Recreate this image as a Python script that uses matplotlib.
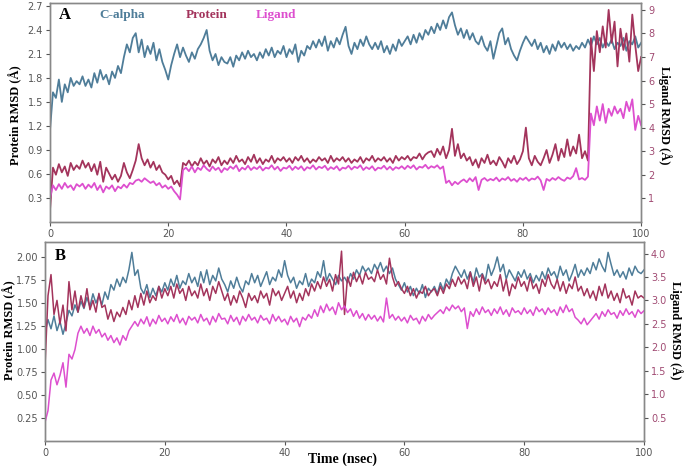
import matplotlib
matplotlib.use("Agg")
import matplotlib.pyplot as plt
import numpy as np

# time axis, 0.5 ns steps
time = np.linspace(0, 100, 201)

# ---- panel A ----
a_calpha = [
    1.15, 1.62, 1.55, 1.78, 1.50, 1.72, 1.62, 1.80, 1.70, 1.76,
    1.72, 1.82, 1.70, 1.78, 1.68, 1.86, 1.74, 1.90, 1.78, 1.84,
    1.72, 1.88, 1.80, 1.95, 1.86, 2.06, 2.22, 2.12, 2.30, 2.36,
    2.12, 2.28, 2.06, 2.20, 2.10, 2.24, 2.02, 2.16, 2.00, 1.90,
    1.78, 1.96, 2.10, 2.22, 2.06, 2.18, 2.08, 2.00, 2.12, 2.04,
    2.16, 2.22, 2.30, 2.40, 2.14, 2.02, 2.10, 1.96, 2.06, 2.00,
    1.98, 2.06, 1.94, 2.08, 2.02, 2.12, 2.04, 2.14, 2.06, 2.10,
    2.02, 2.12, 2.05, 2.16, 2.08, 2.18, 2.06, 2.14, 2.10, 2.20,
    2.06, 2.16, 2.10, 2.22, 2.00, 2.14, 2.08, 2.20, 2.16, 2.26,
    2.18, 2.28, 2.20, 2.32, 2.14, 2.26, 2.18, 2.30, 2.22, 2.34,
    2.44, 2.20, 2.10, 2.24, 2.16, 2.28, 2.20, 2.32, 2.22, 2.16,
    2.24, 2.16, 2.26, 2.12, 2.20, 2.10, 2.22, 2.14, 2.28, 2.20,
    2.26, 2.32, 2.22, 2.34, 2.24, 2.36, 2.28, 2.40, 2.34, 2.44,
    2.36, 2.48, 2.40, 2.52, 2.42, 2.56, 2.62, 2.46, 2.34, 2.42,
    2.30, 2.40, 2.28, 2.36, 2.26, 2.22, 2.32, 2.20, 2.14, 2.26,
    2.04, 2.20, 2.36, 2.42, 2.22, 2.30, 2.16, 2.08, 2.02, 2.14,
    2.24, 2.32, 2.26, 2.20, 2.28, 2.16, 2.24, 2.12, 2.20, 2.10,
    2.22, 2.14, 2.26, 2.18, 2.24, 2.16, 2.22, 2.14, 2.20, 2.16,
    2.24, 2.18, 2.28, 2.20, 2.32, 2.22, 2.30, 2.18, 2.26, 2.20,
    2.28, 2.16, 2.24, 2.20, 2.30, 2.14, 2.26, 2.22, 2.32, 2.18,
    2.24]

a_protein = [
    0.50, 2.30, 2.00, 2.45, 2.10, 2.35, 1.95, 2.50, 2.20, 2.40,
    2.25, 2.60, 2.30, 2.50, 2.15, 2.45, 2.00, 2.55, 1.70, 2.30,
    2.05, 1.80, 2.00, 1.70, 1.95, 2.50, 2.10, 1.85, 2.20, 2.60,
    3.30, 2.70, 2.40, 2.65, 2.30, 2.55, 2.20, 2.40, 2.10, 2.00,
    1.80, 1.95, 1.60, 1.75, 1.50, 2.50, 2.40, 2.60, 2.35, 2.55,
    2.40, 2.70, 2.45, 2.60, 2.35, 2.65, 2.50, 2.75, 2.40, 2.60,
    2.45, 2.70, 2.50, 2.80, 2.55, 2.65, 2.45, 2.75, 2.55, 2.85,
    2.50, 2.70, 2.45, 2.65, 2.55, 2.80, 2.50, 2.70, 2.60, 2.75,
    2.55, 2.70, 2.50, 2.75, 2.60, 2.80, 2.55, 2.70, 2.50, 2.65,
    2.55, 2.75, 2.60, 2.70, 2.50, 2.80, 2.55, 2.70, 2.60, 2.75,
    2.55, 2.70, 2.50, 2.65, 2.55, 2.75, 2.50, 2.70, 2.60, 2.80,
    2.55, 2.70, 2.60, 2.75, 2.55, 2.70, 2.50, 2.80, 2.60, 2.75,
    2.65, 2.80, 2.60, 2.75, 2.70, 2.90, 2.65, 2.85, 2.95, 3.00,
    2.75, 3.10, 2.85, 3.20, 2.70, 3.05, 3.95, 2.80, 3.30, 2.70,
    2.90, 2.60, 2.75, 2.40, 2.65, 2.30, 2.70, 2.50, 2.85, 2.45,
    2.60, 2.40, 2.75, 2.55, 2.30, 2.70, 2.50, 2.80, 2.45, 2.65,
    3.00, 4.00, 2.70, 2.40, 2.80, 2.55, 2.40, 2.70, 3.05, 2.50,
    2.85, 3.30, 2.60, 3.10, 2.75, 3.50, 2.80, 3.20, 2.90, 3.70,
    2.70, 3.00, 2.60, 7.80, 6.40, 8.10, 7.20, 8.30, 7.40, 9.00,
    7.60, 8.50, 6.60, 8.20, 7.30, 8.00, 6.80, 8.80, 7.50, 6.40,
    7.00]

a_ligand = [
    1.00, 1.55, 1.35, 1.60, 1.40, 1.65, 1.45, 1.55, 1.35, 1.60,
    1.50, 1.62, 1.40, 1.58, 1.45, 1.65, 1.35, 1.55, 1.25, 1.50,
    1.40, 1.55, 1.30, 1.50, 1.42, 1.58, 1.45, 1.65, 1.60, 1.75,
    1.80, 1.70, 1.85, 1.75, 1.65, 1.72, 1.55, 1.65, 1.45, 1.55,
    1.40, 1.50, 1.30, 1.15, 0.95, 2.20, 2.30, 2.15, 2.35, 2.10,
    2.30, 2.20, 2.40, 2.25, 2.15, 2.35, 2.20, 2.30, 2.10, 2.28,
    2.20, 2.35, 2.25, 2.40, 2.15, 2.30, 2.22, 2.38, 2.20, 2.32,
    2.24, 2.36, 2.18, 2.30, 2.26, 2.40, 2.22, 2.34, 2.16, 2.30,
    2.26, 2.38, 2.20, 2.34, 2.24, 2.36, 2.18, 2.32, 2.26, 2.40,
    2.22, 2.34, 2.28, 2.38, 2.20, 2.32, 2.24, 2.36, 2.18, 2.30,
    2.26, 2.38, 2.22, 2.34, 2.28, 2.40, 2.20, 2.32, 2.24, 2.36,
    2.18, 2.30, 2.26, 2.38, 2.22, 2.34, 2.20, 2.32, 2.26, 2.36,
    2.24, 2.38, 2.28, 2.40, 2.22, 2.34, 2.30, 2.42, 2.26, 2.36,
    2.30, 2.40, 2.25, 2.35, 1.65, 1.75, 1.55, 1.70, 1.60, 1.72,
    1.80, 1.68, 1.85, 1.72, 1.90, 1.35, 1.78, 1.86, 1.74, 1.82,
    1.76, 1.88, 1.72, 1.84, 1.78, 1.90, 1.74, 1.82, 1.70, 1.86,
    1.78, 1.88, 1.74, 1.84, 1.80, 1.92, 1.76, 1.35, 1.82, 1.74,
    1.86, 1.78, 1.90, 1.80, 1.74, 1.88, 1.82, 1.94, 2.28, 1.80,
    1.86, 1.78, 1.92, 4.60, 4.10, 4.90, 4.30, 5.00, 4.20, 4.80,
    4.50, 4.90, 4.60, 4.80, 4.40, 5.10, 4.70, 5.20, 3.90, 4.50,
    4.10]

# ---- panel B ----
b_calpha = [
    1.18, 1.32, 1.22, 1.36, 1.20, 1.30, 1.16, 1.28, 1.42, 1.36,
    1.48, 1.40, 1.52, 1.44, 1.56, 1.46, 1.60, 1.50, 1.58, 1.48,
    1.62, 1.54, 1.70, 1.64, 1.76, 1.68, 1.78, 1.72, 1.86, 2.05,
    1.80, 1.86, 1.66, 1.60, 1.70, 1.56, 1.66, 1.58, 1.68, 1.62,
    1.72, 1.64, 1.76, 1.68, 1.80, 1.66, 1.74, 1.70, 1.82, 1.72,
    1.78, 1.68, 1.84, 1.72, 1.86, 1.70, 1.80, 1.74, 1.88, 1.76,
    1.70, 1.62, 1.74, 1.66, 1.78, 1.68, 1.62, 1.74, 1.70, 1.82,
    1.72, 1.80, 1.68, 1.76, 1.84, 1.70, 1.78, 1.74, 1.86, 1.78,
    1.96, 1.80, 1.72, 1.78, 1.66, 1.74, 1.70, 1.82, 1.68, 1.76,
    1.72, 1.84, 1.78, 1.96, 1.74, 1.82, 1.76, 1.70, 1.80, 1.74,
    1.78, 1.72, 1.82, 1.76, 1.86, 1.80, 1.90, 1.84, 1.88, 1.82,
    1.92, 1.86, 1.94, 1.84, 1.90, 1.82, 1.88, 1.76, 1.70, 1.64,
    1.72, 1.62, 1.68, 1.58, 1.66, 1.60, 1.70, 1.56, 1.66, 1.62,
    1.68, 1.60, 1.72, 1.64, 1.76, 1.70, 1.82, 1.90, 1.84, 1.78,
    1.86, 1.76, 1.84, 1.72, 1.88, 1.78, 1.82, 1.74, 1.92, 1.80,
    1.88, 2.00, 1.84, 1.92, 1.76, 1.86, 1.80, 1.74, 1.84, 1.78,
    1.86, 1.76, 1.82, 1.72, 1.80, 1.74, 1.84, 1.76, 1.88, 1.80,
    1.84, 1.76, 1.90, 1.80, 1.86, 1.74, 1.82, 1.92, 1.78, 1.86,
    1.80, 1.88, 1.82, 1.94, 1.86, 1.98, 1.90, 1.84, 2.05, 1.92,
    1.80, 1.86, 1.78, 1.84, 1.76, 1.88, 1.80, 1.90, 1.84, 1.82,
    1.86]

b_protein = [
    1.60, 3.10, 3.55, 2.70, 3.00, 2.50, 2.90, 2.35, 3.40, 2.80,
    3.20, 2.75, 3.10, 2.85, 3.25, 2.80, 3.00, 2.75, 3.15, 2.85,
    2.90, 2.60, 2.80, 2.55, 2.75, 2.65, 2.85, 2.70, 3.00, 2.80,
    3.10, 2.85, 3.15, 2.90, 3.20, 2.95, 3.10, 3.00, 3.30, 3.05,
    3.25, 3.10, 3.30, 3.05, 3.35, 3.15, 3.25, 3.00, 3.30, 3.10,
    3.20, 3.05, 3.35, 3.10, 3.25, 3.00, 3.30, 3.15, 3.40, 3.20,
    3.00, 3.15, 2.90, 3.10, 2.95, 3.20, 3.05, 2.85, 3.15, 3.00,
    3.10, 2.95, 3.20, 3.05, 3.15, 2.90, 3.25, 3.10, 3.20, 3.00,
    3.15, 3.30, 3.05, 3.20, 2.95, 3.15, 3.00, 3.25, 3.10, 3.35,
    3.20, 3.40, 3.25, 3.50, 3.30, 3.45, 3.20, 3.55, 3.35, 4.05,
    2.70, 3.50, 3.30, 3.60, 3.40, 3.55, 3.35, 3.60, 3.45, 3.50,
    3.40, 3.65, 3.45, 3.55, 3.35, 3.90, 3.50, 3.30, 3.40, 3.25,
    3.15, 3.30, 3.10, 3.25, 3.05, 3.20, 3.15, 3.30, 3.10, 3.20,
    3.25, 3.10, 3.30, 3.15, 3.35, 3.25, 3.45, 3.30, 3.50, 3.35,
    3.45, 3.25, 3.60, 3.30, 3.50, 3.20, 3.55, 3.35, 3.45, 3.25,
    3.40, 3.30, 3.55, 3.20, 3.45, 3.10, 3.35, 3.25, 3.50, 3.30,
    3.40, 3.20, 3.50, 3.25, 3.35, 3.15, 3.45, 3.30, 3.55, 3.35,
    3.25, 3.45, 3.20, 3.40, 3.15, 3.35, 3.25, 3.50, 3.20, 3.30,
    3.10, 3.25, 3.05, 3.20, 3.00, 3.30, 3.10, 3.35, 3.05, 3.20,
    3.00, 3.15, 2.95, 3.25, 3.05, 3.10, 2.90, 3.20, 3.05, 3.10,
    3.05]

b_ligand = [
    0.40, 0.65, 1.30, 1.45, 1.20, 1.40, 1.67, 1.15, 1.85, 1.75,
    1.95, 2.30, 2.45, 2.30, 2.40, 2.25, 2.45, 2.30, 2.38, 2.22,
    2.30, 2.15, 2.25, 2.10, 2.20, 2.05, 2.25, 2.15, 2.35, 2.45,
    2.55, 2.45, 2.60, 2.50, 2.65, 2.45, 2.60, 2.50, 2.68, 2.55,
    2.62, 2.50, 2.65, 2.55, 2.70, 2.52, 2.62, 2.48, 2.66, 2.58,
    2.64, 2.52, 2.70, 2.56, 2.62, 2.48, 2.66, 2.54, 2.72, 2.60,
    2.62, 2.50, 2.68, 2.55, 2.64, 2.48, 2.66, 2.56, 2.70, 2.58,
    2.64, 2.52, 2.68, 2.58, 2.62, 2.50, 2.70, 2.56, 2.66, 2.54,
    2.60, 2.48, 2.66, 2.54, 2.62, 2.44, 2.64, 2.58, 2.70, 2.62,
    2.80, 2.66, 2.88, 2.74, 2.92, 2.78, 2.86, 2.70, 2.95, 2.80,
    2.88, 2.74, 2.82, 2.66, 2.78, 2.62, 2.72, 2.58, 2.70, 2.60,
    2.68, 2.56, 2.66, 2.54, 3.05, 2.62, 2.70, 2.58, 2.66, 2.56,
    2.64, 2.52, 2.68, 2.58, 2.62, 2.50, 2.66, 2.56, 2.70, 2.60,
    2.68, 2.74, 2.80, 2.72, 2.86, 2.78, 2.90, 2.82, 2.88, 2.76,
    2.84, 2.40, 2.76, 2.66, 2.82, 2.70, 2.86, 2.74, 2.80, 2.68,
    2.82, 2.72, 2.86, 2.70, 2.80, 2.66, 2.84, 2.74, 2.78, 2.70,
    2.84, 2.72, 2.80, 2.68, 2.86, 2.76, 2.82, 2.70, 2.84, 2.74,
    2.80, 2.68, 2.86, 2.74, 2.90, 2.76, 2.82, 2.64, 2.58, 2.50,
    2.62, 2.48, 2.56, 2.64, 2.72, 2.60, 2.76, 2.66, 2.80, 2.70,
    2.74, 2.62, 2.78, 2.68, 2.82, 2.70, 2.76, 2.64, 2.80, 2.72,
    2.78]

x_ticks = [0, 20, 40, 60, 80, 100]
a_left_ticks = [0.3, 0.6, 0.9, 1.2, 1.5, 1.8, 2.1, 2.4, 2.7]
a_right_ticks = [1, 2, 3, 4, 5, 6, 7, 8, 9]
b_left_ticks = [0.25, 0.50, 0.75, 1.00, 1.25, 1.50, 1.75, 2.00]
b_right_ticks = [0.5, 1.0, 1.5, 2.0, 2.5, 3.0, 3.5, 4.0]

c_ca = "#4f7d99"
c_pro = "#a3345c"
c_lig = "#dd4fcf"
serif = "Liberation Serif"

fig = plt.figure(figsize=(6.85, 4.66), dpi=100)


def style(ax, ax2, lticks, rticks, lfmt, rfmt):
    for a in (ax, ax2):
        for s in a.spines.values():
            s.set_color("#888888")
            s.set_linewidth(1.0)
    ax.set_xlim(0, 100)
    ax.set_xticks(x_ticks)
    ax.set_xticklabels([str(t) for t in x_ticks])
    ax.set_yticks(lticks)
    ax.set_yticklabels([lfmt % v for v in lticks])
    ax2.set_yticks(rticks)
    ax2.set_yticklabels([rfmt % v for v in rticks])
    ax.tick_params(axis="both", labelsize=7, colors="#555555", length=3, width=0.8, pad=2)
    ax2.tick_params(axis="y", labelsize=7, colors="#555555", labelcolor="#a04a72",
                    length=3, width=0.8, pad=2)


# panel A
axA = fig.add_axes([0.073, 0.524, 0.863, 0.470])
axA2 = axA.twinx()
axA.plot(time, a_calpha, color=c_ca, lw=1.3)
axA2.plot(time, a_protein, color=c_pro, lw=1.3)
axA2.plot(time, a_ligand, color=c_lig, lw=1.3)
axA.set_ylim(0, 2.74)
axA2.set_ylim(0, 9.3)
style(axA, axA2, a_left_ticks, a_right_ticks, "%.1f", "%d")

# panel B
axB = fig.add_axes([0.0657, 0.0536, 0.8745, 0.4275])
axB2 = axB.twinx()
axB.plot(time, b_calpha, color=c_ca, lw=1.1)
axB2.plot(time, b_protein, color=c_pro, lw=1.1)
axB2.plot(time, b_ligand, color=c_lig, lw=1.1)
axB.set_ylim(0, 2.165)
axB2.set_ylim(0, 4.25)
style(axB, axB2, b_left_ticks, b_right_ticks, "%.2f", "%.1f")

# labels
fig.text(65 / 685, 1 - 15 / 466, "A", family=serif, weight="bold", size=12, ha="center", va="center")
fig.text(122 / 685, 1 - 15 / 466, "C-alpha", family=serif, weight="bold", size=9.5, color=c_ca, ha="center", va="center")
fig.text(207 / 685, 1 - 15 / 466, "Protein", family=serif, weight="bold", size=9.5, color=c_pro, ha="center", va="center")
fig.text(276 / 685, 1 - 15 / 466, "Ligand", family=serif, weight="bold", size=9.5, color=c_lig, ha="center", va="center")
fig.text(60 / 685, 1 - 256 / 466, "B", family=serif, weight="bold", size=12, ha="center", va="center")

fig.text(15 / 685, 1 - 115 / 466, "Protein RMSD (Å)", family=serif, weight="bold", size=9,
         rotation=90, ha="center", va="center")
fig.text(665 / 685, 1 - 115 / 466, "Ligand RMSD (Å)", family=serif, weight="bold", size=9,
         rotation=270, ha="center", va="center")
fig.text(9 / 685, 1 - 330 / 466, "Protein RMSD (Å)", family=serif, weight="bold", size=9,
         rotation=90, ha="center", va="center")
fig.text(676 / 685, 1 - 330 / 466, "Ligand RMSD (Å)", family=serif, weight="bold", size=9,
         rotation=270, ha="center", va="center")
fig.text(343 / 685, 1 - 459 / 466, "Time (nsec)", family=serif, weight="bold", size=10,
         ha="center", va="center")

fig.savefig("out.png", dpi=100)
